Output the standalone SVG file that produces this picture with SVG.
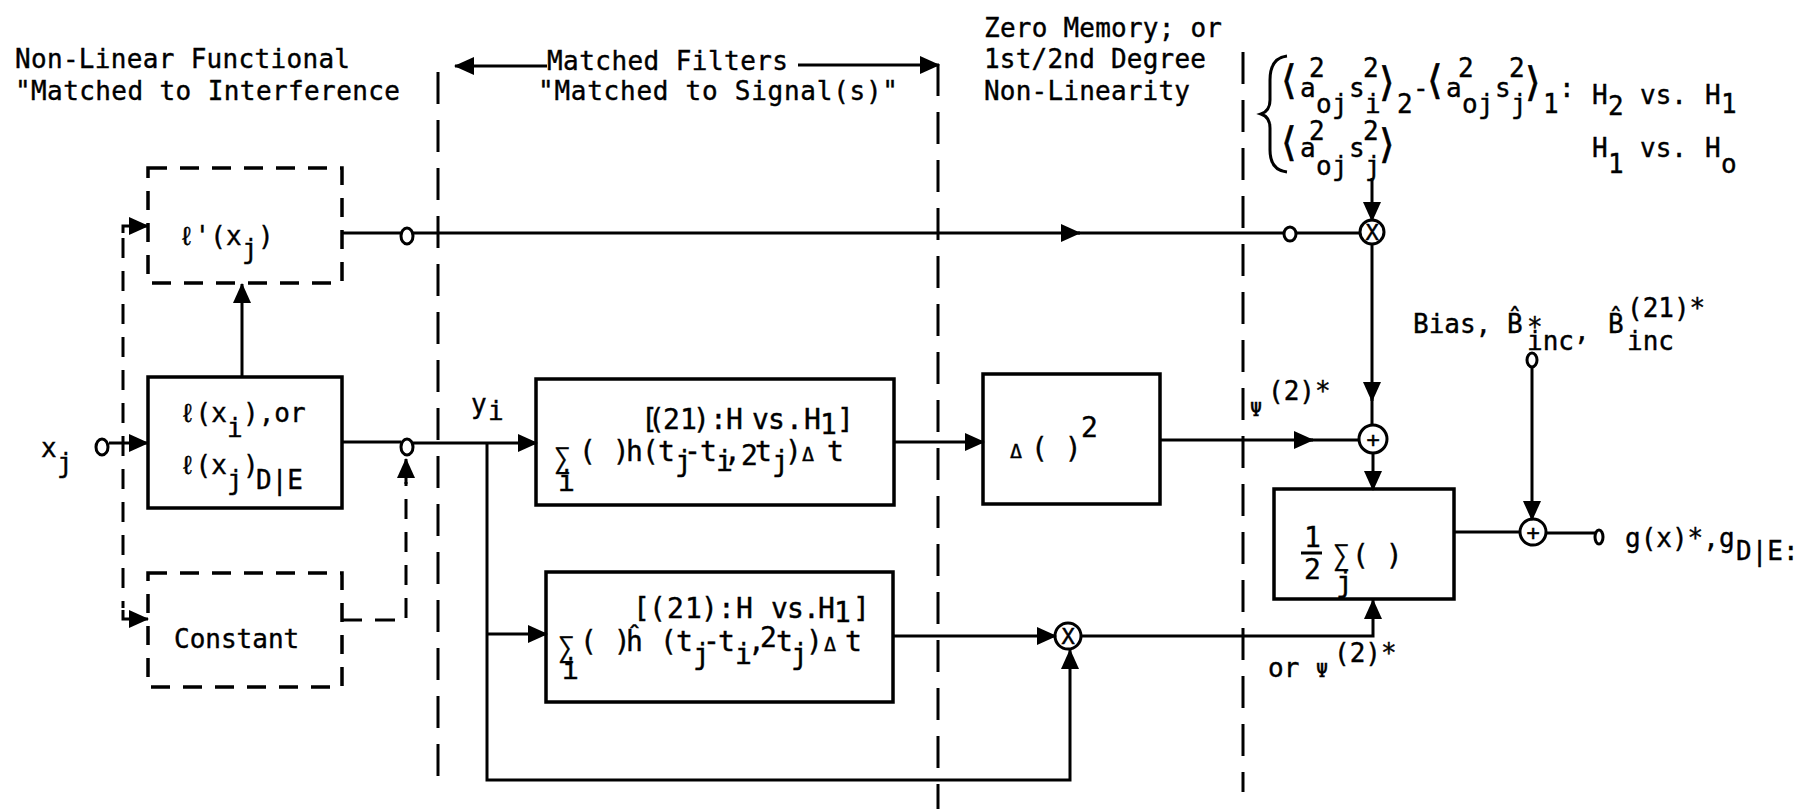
<svg xmlns="http://www.w3.org/2000/svg" width="1802" height="809" viewBox="0 0 1802 809">
<style>
.t{font-family:"DejaVu Sans Mono","Liberation Mono",monospace;font-size:26px;fill:#000;stroke:#000;stroke-width:0.4}
.f{font-size:28px}
.sm{font-size:20px}
.br{font-family:"DejaVu Sans","DejaVu Sans Mono",sans-serif;font-size:40px;stroke-width:0.6}
.ln{stroke:#000;stroke-width:3;fill:none}
.bx{stroke:#000;stroke-width:3.5;fill:none}
.dbx{stroke:#000;stroke-width:3.5;fill:none;stroke-dasharray:19 13}
.dl{stroke:#000;stroke-width:3;fill:none;stroke-dasharray:32 16}
.dd{stroke:#000;stroke-width:3;fill:none;stroke-dasharray:20 13}
.ar{marker-end:url(#ah)}
.cir{stroke:#000;stroke-width:3;fill:#fff}
.term{stroke:#000;stroke-width:3;fill:none}
.op{font-family:"DejaVu Sans Mono","Liberation Mono",monospace;font-size:22px;text-anchor:middle;fill:#000;stroke:#000;stroke-width:0.5}
</style>
<defs>
<marker id="ah" markerUnits="userSpaceOnUse" markerWidth="20" markerHeight="18" viewBox="0 0 20 18" refX="19" refY="9" orient="auto"><path d="M0,0 L20,9 L0,18 z" fill="#000"/></marker>
</defs>
<rect width="1802" height="809" fill="#fff"/>

<g id="headers">
<text class="t" x="15" y="68" textLength="335" lengthAdjust="spacing">Non-Linear Functional</text>
<text class="t" x="15" y="100" textLength="385" lengthAdjust="spacing">"Matched to Interference</text>
<text class="t" x="547" y="70" textLength="241" lengthAdjust="spacing">Matched Filters</text>
<text class="t" x="538" y="100" textLength="360" lengthAdjust="spacing">"Matched to Signal(s)"</text>
<text class="t" x="984" y="37" textLength="238" lengthAdjust="spacing">Zero Memory; or</text>
<text class="t" x="984" y="68" textLength="222" lengthAdjust="spacing">1st/2nd Degree</text>
<text class="t" x="984" y="100" textLength="206" lengthAdjust="spacing">Non-Linearity</text>
</g>

<g id="dividers">
<path class="dl" d="M438,72 V780"/>
<path class="dl" d="M938,64 V809"/>
<path class="dl" d="M1243,52 V792"/>
<path class="ln ar" d="M547,66 H455"/>
<path class="ln ar" d="M798,65 H939"/>
</g>

<g id="input">
<text class="t"><tspan x="41" y="457">x</tspan><tspan x="57" y="472">j</tspan></text>
<ellipse class="term" cx="102" cy="447" rx="6" ry="8"/>
</g>

<g id="lprime">
<rect class="dbx" x="148" y="168" width="194" height="115"/>
<text class="t"><tspan x="179" y="245">ℓ'(x</tspan><tspan x="242" y="258">j</tspan><tspan x="258" y="245">)</tspan></text>
</g>

<g id="lfunc">
<rect class="bx" x="148" y="377" width="194" height="131"/>
<text class="t"><tspan x="180" y="422">ℓ(x</tspan><tspan x="227" y="437">i</tspan><tspan x="243" y="422">),or</tspan></text>
<text class="t"><tspan x="180" y="474">ℓ(x</tspan><tspan x="227" y="489">j</tspan><tspan x="243" y="474">)</tspan><tspan x="256" y="489">D|E</tspan></text>
</g>

<g id="constant">
<rect class="dbx" x="148" y="573" width="194" height="114"/>
<text class="t" x="174" y="648">Constant</text>
</g>

<g id="yi">
<text class="t"><tspan x="471" y="413">y</tspan><tspan x="488" y="420">i</tspan></text>
</g>

<g id="mf1">
<rect class="bx" x="536" y="379" width="358" height="126"/>
<text class="t f"><tspan x="554" y="468">∑</tspan><tspan x="558" y="491">i</tspan><tspan x="579" y="461">( )</tspan><tspan x="626 642 658" y="461">h(t</tspan><tspan x="675" y="471">j</tspan><tspan x="684 700" y="461">-t</tspan><tspan x="716" y="471">i</tspan><tspan x="724" y="461">,</tspan><tspan x="741" y="465">2</tspan><tspan x="755" y="461">t</tspan><tspan x="772" y="471">j</tspan><tspan x="785" y="461">)</tspan><tspan class="sm" x="802" y="461">Δ</tspan><tspan x="827" y="461">t</tspan><tspan x="641 648 663 680 693 710 726" y="429">[(21):H</tspan><tspan x="752 768 786 804" y="429">vs.H</tspan><tspan x="820" y="434">1</tspan><tspan x="837" y="429">]</tspan></text>
</g>

<g id="mf2">
<rect class="bx" x="546" y="572" width="347" height="130"/>
<text class="t f"><tspan x="558" y="657">∑</tspan><tspan x="562" y="679">i</tspan><tspan x="580" y="651">( )</tspan><tspan x="626" y="651">ĥ</tspan><tspan x="660 676" y="651">(t</tspan><tspan x="693" y="664">j</tspan><tspan x="703 718" y="651">-t</tspan><tspan x="735" y="664">i</tspan><tspan x="748" y="651">,</tspan><tspan x="760" y="647">2</tspan><tspan x="776" y="651">t</tspan><tspan x="791" y="664">j</tspan><tspan x="806" y="651">)</tspan><tspan class="sm" x="824" y="651">Δ</tspan><tspan x="845" y="651">t</tspan><tspan x="633 649 667 685 701 718 736" y="618">[(21):H</tspan><tspan x="771 787 803 818" y="618">vs.H</tspan><tspan x="834" y="622">1</tspan><tspan x="853" y="618">]</tspan></text>
</g>

<g id="square">
<rect class="bx" x="983" y="374" width="177" height="130"/>
<text class="t f"><tspan class="sm" x="1010" y="458">Δ</tspan><tspan x="1031" y="458">( )</tspan><tspan x="1081" y="437">2</tspan></text>
</g>

<g id="sumj">
<rect class="bx" x="1274" y="489" width="180" height="110"/>
<path class="ln" d="M1301,553 H1322"/>
<text class="t f"><tspan x="1304" y="547">1</tspan><tspan x="1304" y="579">2</tspan><tspan x="1333" y="565">∑</tspan><tspan x="1336" y="592">j</tspan><tspan x="1352" y="565">( )</tspan></text>
</g>

<g id="mult1">
<circle class="cir" cx="1372" cy="232" r="12"/>
<text class="op" x="1372" y="240">X</text>
</g>
<g id="add1">
<circle class="cir" cx="1373" cy="439" r="14"/>
<text class="op" x="1373" y="447">+</text>
</g>
<g id="mult2">
<circle class="cir" cx="1068" cy="636" r="13"/>
<text class="op" x="1068" y="644">X</text>
</g>
<g id="add2">
<circle class="cir" cx="1533" cy="532" r="13"/>
<text class="op" x="1533" y="540">+</text>
</g>

<g id="weights">
<path class="ln" d="M1287,56 Q1270,58 1270,80 L1270,100 Q1270,111 1261,114 Q1270,117 1270,128 L1270,150 Q1270,170 1287,172"/>
<text class="t"><tspan class="br" x="1281" y="94">⟨</tspan><tspan x="1300" y="97">a</tspan><tspan x="1309" y="77">2</tspan><tspan x="1316 1332" y="113">oj</tspan><tspan x="1349" y="97">s</tspan><tspan x="1363" y="77">2</tspan><tspan x="1365" y="113">i</tspan><tspan class="br" x="1379" y="96">⟩</tspan><tspan x="1397" y="113">2</tspan><tspan x="1413" y="97">-</tspan><tspan class="br" x="1427" y="94">⟨</tspan><tspan x="1446" y="97">a</tspan><tspan x="1458" y="77">2</tspan><tspan x="1462 1478" y="113">oj</tspan><tspan x="1495" y="97">s</tspan><tspan x="1509" y="77">2</tspan><tspan x="1511" y="113">j</tspan><tspan class="br" x="1525" y="96">⟩</tspan><tspan x="1543" y="113">1</tspan><tspan x="1559" y="97">:</tspan><tspan x="1592" y="104">H</tspan><tspan x="1608" y="115">2</tspan><tspan x="1640" y="104">vs.</tspan><tspan x="1705" y="104">H</tspan><tspan x="1721" y="113">1</tspan></text>
<text class="t"><tspan class="br" x="1281" y="156">⟨</tspan><tspan x="1300" y="157">a</tspan><tspan x="1309" y="140">2</tspan><tspan x="1316 1332" y="175">oj</tspan><tspan x="1349" y="157">s</tspan><tspan x="1363" y="140">2</tspan><tspan x="1365" y="175">j</tspan><tspan class="br" x="1379" y="158">⟩</tspan><tspan x="1592" y="157">H</tspan><tspan x="1608" y="173">1</tspan><tspan x="1640" y="157">vs.</tspan><tspan x="1705" y="157">H</tspan><tspan x="1721" y="173">o</tspan></text>
</g>

<g id="psi1">
<text class="t"><tspan class="sm" x="1250" y="416">Ψ</tspan><tspan x="1268" y="400">(2)*</tspan></text>
</g>
<g id="psi2">
<text class="t"><tspan x="1268" y="677">or</tspan><tspan class="sm" x="1316" y="677">Ψ</tspan><tspan x="1334" y="662">(2)*</tspan></text>
</g>

<g id="bias">
<text class="t"><tspan x="1413" y="333">Bias, B̂</tspan><tspan x="1527" y="336">*</tspan><tspan x="1527" y="350">inc</tspan><tspan x="1574" y="340">,</tspan><tspan x="1608" y="333">B̂</tspan><tspan x="1627" y="317">(21)*</tspan><tspan x="1627" y="350">inc</tspan></text>
<ellipse class="term" cx="1532" cy="360" rx="5" ry="7"/>
</g>

<g id="output">
<ellipse class="term" cx="1599" cy="537" rx="4" ry="7"/>
<text class="t"><tspan x="1625" y="547">g(x)*,g</tspan><tspan x="1736" y="560">D|E:</tspan></text>
</g>

<g id="connectors">
<path class="ln ar" d="M109,443 H148"/>
<path class="dd" d="M123,238 V608"/>
<path class="ln ar" d="M123,233 V226 H148"/>
<path class="ln ar" d="M123,610 V619 H148"/>
<path class="ln ar" d="M242,377 V284"/>
<path class="ln" d="M342,233 H401"/>
<ellipse class="term" cx="407" cy="236" rx="6" ry="8"/>
<path class="ln ar" d="M413,233 H1080"/>
<path class="ln" d="M1078,233 H1283"/>
<ellipse class="term" cx="1290" cy="234" rx="6" ry="7"/>
<path class="ln" d="M1297,233 H1360"/>
<path class="ln" d="M342,442 H401"/>
<ellipse class="term" cx="407" cy="447" rx="6" ry="8"/>
<path class="ln ar" d="M413,443 H537"/>
<path class="dd" d="M342,620 H406 V482"/>
<path class="ln ar" d="M406,484 V459"/>
<path class="ln ar" d="M487,443 V780 H1070 V650"/>
<path class="ln ar" d="M487,634 H547"/>
<path class="ln ar" d="M894,442 H984"/>
<path class="ln ar" d="M893,636 H1056"/>
<path class="ln ar" d="M1081,636 H1373 V600"/>
<path class="ln ar" d="M1160,440 H1313"/>
<path class="ln" d="M1310,440 H1359"/>
<path class="ln ar" d="M1372,178 V221"/>
<path class="ln ar" d="M1372,244 V401"/>
<path class="ln" d="M1372,398 V425"/>
<path class="ln ar" d="M1373,453 V490"/>
<path class="ln" d="M1454,532 H1520"/>
<path class="ln ar" d="M1532,368 V520"/>
<path class="ln" d="M1546,533 H1595"/>
</g>
</svg>
